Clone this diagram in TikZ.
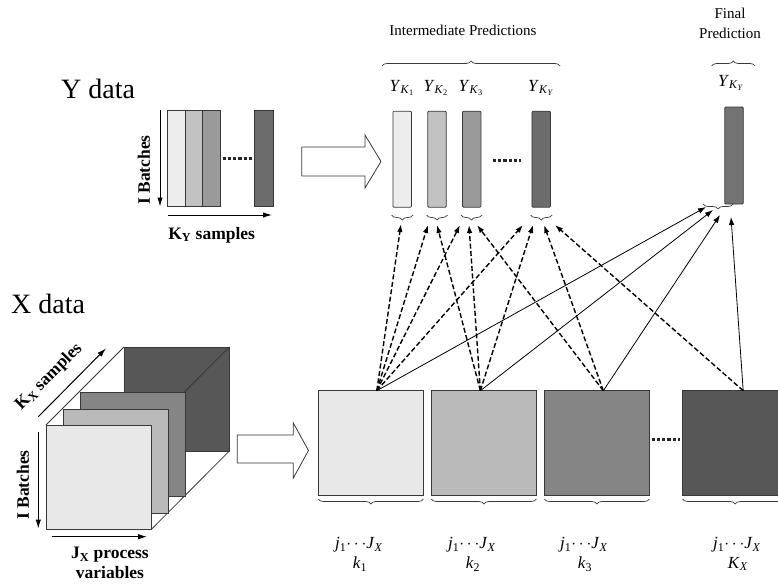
\documentclass[tikz,border=0pt]{standalone}
\usepackage{fontspec}
\setmainfont{Liberation Serif}
\usetikzlibrary{arrows.meta,decorations.pathreplacing,calc}
\definecolor{edgec}{HTML}{383838}
\definecolor{gA}{HTML}{E8E8E8}
\definecolor{gB}{HTML}{BABABA}
\definecolor{gC}{HTML}{858585}
\definecolor{gD}{HTML}{575757}
\definecolor{yA}{HTML}{EDEDED}
\definecolor{yB}{HTML}{C2C2C2}
\definecolor{yC}{HTML}{9A9A9A}
\definecolor{yD}{HTML}{6C6C6C}
\newcommand{\YK}[1]{\textit{Y}\textsubscript{\textit{K}\textsubscript{#1}}}
\newcommand{\JJ}{\textit{j}\textsubscript{1}$\cdots$\textit{J}\textsubscript{\textit{X}}}
\begin{document}
\begin{tikzpicture}[x=1pt,y=-1pt,
  box/.style={draw=edgec, line width=0.8pt, inner sep=0pt, outer sep=0pt},
  ybar/.style={box, minimum width=18.5pt, minimum height=96pt, rounded corners=1pt},
  mbar/.style={box, minimum height=96pt},
  xblock/.style={box, minimum width=105pt, minimum height=104.3pt},
  brc/.style={draw=edgec, line width=0.7pt, decorate, decoration={brace, amplitude=5pt}},
  dotline/.style={line width=3pt, dash pattern=on 3.2pt off 2pt, black!85},
  dasharrow/.style={-{Latex[length=8pt,width=5.5pt]}, line width=1.4pt, dash pattern=on 5pt off 2.5pt},
  solidarrow/.style={-{Latex[length=8pt,width=5.5pt]}, line width=0.8pt},
  axisarrow/.style={-{Latex[length=9pt,width=5.5pt]}, line width=1pt},
  fat/.style={draw=edgec, fill=white, line width=0.8pt, line join=miter},
  biglab/.style={font=\fontsize{28}{32}\selectfont, inner sep=0pt},
  boldlab/.style={font=\fontsize{17.5}{20}\selectfont\bfseries, inner sep=0pt},
  toplab/.style={font=\fontsize{15}{20}\selectfont, inner sep=0pt, align=center},
  mathlab/.style={font=\fontsize{17}{19}\selectfont, inner sep=0pt}
]
\useasboundingbox (0,0) rectangle (778,586);

% ---------------- Y data ----------------
\node[biglab, anchor=base west] (ytitle) at (61,98) {Y data};
\node[mbar, fill=yA, minimum width=17.3pt] (ym1) at (176.35,158.7) {};
\node[mbar, fill=yB, minimum width=17pt] (ym2) at (193.5,158.7) {};
\node[mbar, fill=yC, minimum width=18.7pt] (ym3) at (211.35,158.7) {};
\node[mbar, fill=yD, minimum width=19pt] (ym4) at (263.5,158.7) {};
\draw[dotline] ($(ym3.east |- 0,158.3)+(2,0)$) coordinate (yd1) -- ($(ym4.west |- 0,158.3)+(-2,0)$) coordinate (yd2);
\coordinate (yib1) at (160,110);
\coordinate (yib2) at (160,206.5);
\draw[axisarrow] (yib1) -- (yib2);
\node[boldlab, rotate=90] (yib) at (144,170) {I Batches};
\coordinate (yks1) at (167.7,215);
\coordinate (yks2) at (272,215);
\draw[axisarrow] (yks1) -- (yks2);
\node[boldlab] (yks) at (211.7,235) {K\textsubscript{Y} samples};
% fat arrow (Y)
\draw[fat] (301.7,147) -- (365,147) -- (365,135) -- (381,161.5) -- (365,188) -- (365,176) -- (301.7,176) -- cycle;

% ---------------- Predictions ----------------
\node[toplab] (ipred) at (463,30) {Intermediate Predictions};
\draw[brc] (382,66) -- (560,66);
\node[toplab] (fpred) at (730,23) {Final\\Prediction};
\draw[brc] (711.7,66) -- (755,66);

\node[mathlab] (l1) at (402,88) {\YK{1}};
\node[mathlab] (l2) at (436,88) {\YK{2}};
\node[mathlab] (l3) at (471,88) {\YK{3}};
\node[mathlab] (l4) at (541,88) {\YK{\textit{Y}}};
\node[mathlab] (lf) at (731,83) {\YK{\textit{Y}}};

\node[ybar, fill=yA] (p1) at (402.2,159.2) {};
\node[ybar, fill=yB] (p2) at (437,159.2) {};
\node[ybar, fill=yC] (p3) at (471.7,159.2) {};
\node[ybar, fill=yD] (p4) at (541.2,159.2) {};
\node[ybar, fill=yD!95!white, minimum height=97pt] (pf) at (734,155.5) {};
\draw[dotline] ($(p3.east |- 0,160)+(12,0)$) coordinate (pd1) -- ($(p4.west |- 0,160)+(-11,0)$) coordinate (pd2);

% small braces under bars
\draw[brc] (413,215) -- (391.5,215);
\draw[brc] (447.5,215) -- (426.5,215);
\draw[brc] (482,215) -- (461,215);
\draw[brc] (552,215) -- (530.5,215);
\draw[brc] (733,204) -- (703,204);

% arrow targets
\coordinate (t11) at (401,224);
\coordinate (t12) at (428,225);
\coordinate (t22) at (437,225);
\coordinate (t13) at (460,225);
\coordinate (t23) at (469,225);
\coordinate (t33) at (477,225);
\coordinate (t14) at (523,225);
\coordinate (t24) at (533,225);
\coordinate (t34) at (544,225);
\coordinate (t44) at (555,225);
\coordinate (tf1) at (706,207);
\coordinate (tf2) at (713,210);
\coordinate (tf3) at (720,215);
\coordinate (tf4) at (731,217);

% ---------------- X data ----------------
\node[biglab, anchor=base west] (xtitle) at (11,313) {X data};
% cube
\coordinate (fTL) at (46,425);
\coordinate (fTR) at (151.7,425);
\coordinate (fBR) at (151.7,529);
\coordinate (bTL) at (124,347);
\coordinate (bTR) at (229.3,347);
\coordinate (bBR) at (229.3,451);
\draw[box, fill=gD] (bTL) rectangle (bBR);
\draw[edgec, line width=0.8pt] (fTL) -- (bTL) (fTR) -- (bTR) (fBR) -- (bBR);
\draw[box, fill=gC] (80,392) rectangle (185.7,496);
\draw[box, fill=gB] (63.3,409) rectangle (168.7,513);
\draw[box, fill=gA] (fTL) rectangle (fBR);

\coordinate (xib1) at (38.3,431.7);
\coordinate (xib2) at (38.3,528.5);
\draw[axisarrow] (xib1) -- (xib2);
\node[boldlab, rotate=90] (xib) at (23,485) {I Batches};
\coordinate (xks1) at (38.3,416.7);
\coordinate (xks2) at (106,348.3);
\draw[axisarrow] (xks1) -- (xks2);
\node[boldlab, rotate=45] (xks) at (49,377) {K\textsubscript{X} samples};
\coordinate (xjp1) at (51.7,536.7);
\coordinate (xjp2) at (147,536.7);
\draw[axisarrow] (xjp1) -- (xjp2);
\node[boldlab, align=center, font=\fontsize{17.5}{20}\selectfont\bfseries] (xjp) at (110,563) {J\textsubscript{X} process\\variables};
% fat arrow (X)
\draw[fat] (237.3,435) -- (293.3,435) -- (293.3,423) -- (308.5,450.5) -- (293.3,478) -- (293.3,463) -- (237.3,463) -- cycle;

% blocks
\node[xblock, fill=gA] (b1) at (370.8,442.85) {};
\node[xblock, fill=gB] (b2) at (483.85,442.85) {};
\node[xblock, fill=gC] (b3) at (596.8,442.85) {};
\node[xblock, fill=gD] (b4) at (735.2,442.85) {};
\draw[dotline] ($(b3.east |- 0,439)+(2.5,0)$) coordinate (xd1) -- ($(b4.west |- 0,439)+(-2.5,0)$) coordinate (xd2);

\draw[brc] (423.3,499) -- (318.3,499);
\draw[brc] (536.4,499) -- (431.3,499);
\draw[brc] (649.3,499) -- (544.3,499);
\draw[brc] (787.7,499) -- (682.7,499);

\node[mathlab] (j1) at (359,545) {\JJ};
\node[mathlab] (k1) at (360,564) {\textit{k}\textsubscript{1}};
\node[mathlab] (j2) at (472,545) {\JJ};
\node[mathlab] (k2) at (473,564) {\textit{k}\textsubscript{2}};
\node[mathlab] (j3) at (584,545) {\JJ};
\node[mathlab] (k3) at (585,564) {\textit{k}\textsubscript{3}};
\node[mathlab] (j4) at (737,545) {\JJ};
\node[mathlab] (k4) at (738,564) {\textit{K}\textsubscript{\textit{X}}};

% arrow sources
\coordinate (o1) at ([xshift=6pt]b1.north);
\coordinate (o2) at ([xshift=-3.5pt]b2.north);
\coordinate (o3) at ([xshift=6.5pt]b3.north);
\coordinate (o4) at ([xshift=8pt]b4.north);

% dashed arrows to intermediate predictions
\draw[dasharrow] (o1) -- (t11);
\draw[dasharrow] (o1) -- (t12);
\draw[dasharrow] (o1) -- (t13);
\draw[dasharrow] (o1) -- (t14);
\draw[dasharrow] (o2) -- (t22);
\draw[dasharrow] (o2) -- (t23);
\draw[dasharrow] (o2) -- (t24);
\draw[dasharrow] (o3) -- (t33);
\draw[dasharrow] (o3) -- (t34);
\draw[dasharrow] (o4) -- (t44);
% solid arrows to final prediction
\draw[solidarrow] (o1) -- (tf1);
\draw[solidarrow] (o2) -- (tf2);
\draw[solidarrow] (o3) -- (tf3);
\draw[solidarrow] (o4) -- (tf4);
\end{tikzpicture}
\end{document}
